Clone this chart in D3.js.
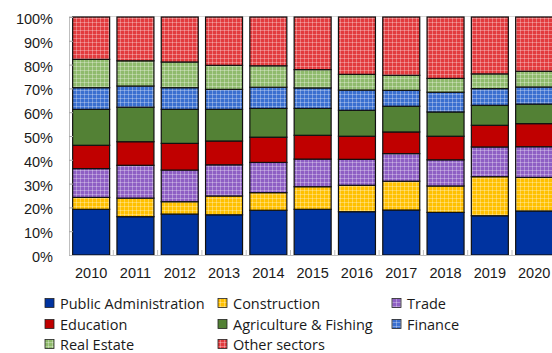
<!DOCTYPE html>
<html><head><meta charset="utf-8">
<script src="https://cdn.jsdelivr.net/npm/d3@7"></script>
<style>body{margin:0;background:#fff}svg{display:block;font-family:"Open Sans",sans-serif}</style>
</head><body><svg id="c" width="552" height="353"></svg>
<script>
const years = ["2010","2011","2012","2013","2014","2015","2016","2017","2018","2019","2020"];
const sectors = ["Public Administration","Construction","Trade","Education","Agriculture & Fishing","Finance","Real Estate","Other sectors"];
const publicAdmin = [19.2,16.1,17.2,16.9,18.8,19.2,18.2,18.9,17.9,16.5,18.5];
const construction = [5.0,7.8,5.2,7.9,7.4,9.5,11.1,12.1,11.1,16.4,14.1];
const trade = [12.1,13.8,13.3,13.1,12.7,11.6,10.9,11.6,11.0,12.5,12.9];
const education = [9.8,9.9,11.2,10.0,10.6,10.0,9.7,9.1,9.9,9.1,9.7];
const agriculture = [15.1,14.5,14.3,13.3,12.1,11.3,10.9,10.8,10.2,8.4,8.2];
const finance = [9.1,8.9,9.1,8.4,8.9,8.6,8.5,6.7,8.3,7.0,7.2];
const realEstate = [11.9,10.6,10.8,10.1,9.0,7.7,6.6,6.3,5.8,6.2,6.6];
const otherSectors = [17.8,18.4,18.9,20.3,20.5,22.1,24.1,24.5,25.8,23.9,22.8];
const yTicks = [0,10,20,30,40,50,60,70,80,90,100];

const seriesValues = [publicAdmin,construction,trade,education,agriculture,finance,realEstate,otherSectors];
const colors = ["#0033a0","#ffc000","#8e5fc4","#c00000","#538135","#3a6fd0","#8fba6c","#e23b3e"];
const patterned = [false,true,true,false,false,true,true,true];

const svg = d3.select("#c");
const defs = svg.append("defs");
sectors.forEach((s,i)=>{
  if(!patterned[i]) return;
  const p = defs.append("pattern").attr("id","p"+i).attr("patternUnits","userSpaceOnUse")
    .attr("width",4).attr("height",4);
  p.append("rect").attr("width",4).attr("height",4).attr("fill",colors[i]);
  p.append("rect").attr("x",0).attr("y",0).attr("width",1).attr("height",4).attr("fill","#fff").attr("opacity",0.3);
  p.append("rect").attr("x",0).attr("y",2).attr("width",4).attr("height",1).attr("fill","#fff").attr("opacity",0.3);
});
const fillOf = i => patterned[i] ? `url(#p${i})` : colors[i];

const table = years.map((yr,j)=>{const o={year:yr}; sectors.forEach((s,i)=>o[s]=seriesValues[i][j]); return o;});
const stacked = d3.stack().keys(sectors)(table);

const plotLeft = 69, plotTop = 17, plotBottom = 255;
const x = d3.scaleBand().domain(years).range([plotLeft, plotLeft+11*44.3]).paddingInner(0.165).paddingOuter(0.0825);
const y = d3.scaleLinear().domain([0,100]).range([plotBottom, plotTop]);

svg.append("line").attr("x1",plotLeft).attr("x2",552).attr("y1",plotTop-0.5).attr("y2",plotTop-0.5).attr("stroke","#d9d9d9");

const g = svg.append("g");
stacked.forEach((layer,i)=>{
  g.selectAll(null).data(layer).enter().append("rect")
    .attr("x",d=>x(d.data.year)).attr("width",x.bandwidth())
    .attr("y",d=>y(d[1])).attr("height",d=>y(d[0])-y(d[1]))
    .attr("fill",fillOf(i)).attr("stroke","#111").attr("stroke-width",1.2);
});

const ya = svg.append("g").attr("transform",`translate(${plotLeft},0)`)
  .call(d3.axisLeft(y).tickValues(yTicks).tickFormat(d=>d+"%").tickSize(-4).tickPadding(16));
ya.select(".domain").attr("stroke","#bfbfbf");
ya.selectAll(".tick line").attr("stroke","#a6a6a6");
ya.selectAll("text").attr("font-size",14.5).attr("fill","#1a1a1a").attr("dy","0.45em");

const xa = svg.append("g").attr("transform",`translate(0,${plotBottom})`)
  .call(d3.axisBottom(x).tickSize(0).tickPadding(13));
xa.select(".domain").attr("stroke","#bfbfbf");
xa.selectAll("text").attr("font-size",14.5).attr("fill","#1a1a1a");
const bounds = years.map((yr)=>x(yr)-x.step()*x.paddingInner()/2).slice(1);
xa.selectAll(".sep").data(bounds).enter().append("line")
  .attr("x1",d=>d).attr("x2",d=>d).attr("y1",0).attr("y2",-5).attr("stroke","#bfbfbf");

const colX = [45,218,392];
const rowY = [304,325,345];
const lg = svg.append("g");
sectors.forEach((s,i)=>{
  const cx = colX[i%3], cy = rowY[Math.floor(i/3)];
  lg.append("rect").attr("x",cx).attr("y",cy-5.5).attr("width",9).attr("height",9)
    .attr("fill",fillOf(i)).attr("stroke","#222").attr("stroke-width",0.8);
  lg.append("text").attr("x",cx+15).attr("y",cy).attr("dy","0.35em")
    .attr("font-size",14.5).attr("fill","#1a1a1a").text(s);
});
</script></body></html>
